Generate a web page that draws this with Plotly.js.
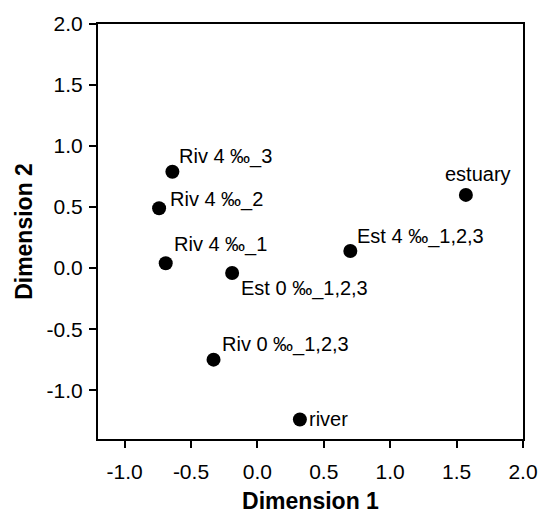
<!DOCTYPE html>
<html>
<head>
<meta charset="utf-8">
<script src="https://cdn.plot.ly/plotly-3.0.1.min.js"></script>
<style>html,body{margin:0;padding:0;background:#fff;}#chart{width:542px;height:514px;}</style>
</head>
<body>
<div id="chart"></div>
<script>
// Data
const labels = ["Riv 4 ‰_3", "Riv 4 ‰_2", "Riv 4 ‰_1", "Est 0 ‰_1,2,3", "Riv 0 ‰_1,2,3", "river", "Est 4 ‰_1,2,3", "estuary"];
const dim1 = [-0.64, -0.74, -0.69, -0.19, -0.33, 0.32, 0.70, 1.57];
const dim2 = [0.79, 0.49, 0.04, -0.04, -0.75, -1.24, 0.14, 0.60];
const xTickVals = [-1.0, -0.5, 0.0, 0.5, 1.0, 1.5, 2.0];
const xTickText = ["-1.0", "-0.5", "0.0", "0.5", "1.0", "1.5", "2.0"];
const yTickVals = [-1.0, -0.5, 0.0, 0.5, 1.0, 1.5, 2.0];
const yTickText = ["-1.0", "-0.5", "0.0", "0.5", "1.0", "1.5", "2.0"];

// Label placement (layout only)
const labelAnchor = ["left", "left", "left", "left", "left", "left", "left", "center"];
const labelShiftX = [5, 9, 6, 7, 6, 7, 5, 12];
const labelShiftY = [15, 9, 19, -15, 15, 0, 15, 21];

const font = "Liberation Sans, Arial, sans-serif";

const trace = {
  x: dim1, y: dim2, mode: "markers", type: "scatter",
  marker: {color: "#000", size: 14},
  hoverinfo: "skip", showlegend: false
};

const annotations = labels.map((t, i) => ({
  x: dim1[i], y: dim2[i], xref: "x", yref: "y", text: t, showarrow: false,
  xanchor: labelAnchor[i], yanchor: "middle",
  xshift: labelShiftX[i], yshift: labelShiftY[i],
  font: {family: font, size: 20, color: "#000"}
}));

const axisCommon = {
  showgrid: false, zeroline: false, showline: true, linecolor: "#000", linewidth: 2,
  mirror: true, ticks: "outside", ticklen: 7, tickwidth: 2, tickcolor: "#000",
  tickfont: {family: font, size: 21, color: "#000"}, tickmode: "array"
};

const layout = {
  width: 542, height: 514,
  margin: {l: 98, r: 19, t: 24, b: 75},
  paper_bgcolor: "#fff", plot_bgcolor: "#fff",
  xaxis: Object.assign({}, axisCommon, {
    range: [-1.2, 2.0], tickvals: xTickVals, ticktext: xTickText,
    ticklabelstandoff: 6,
    title: {text: "<b>Dimension 1</b>", font: {family: font, size: 23, color: "#000"}, standoff: 12}
  }),
  yaxis: Object.assign({}, axisCommon, {
    range: [-1.4, 2.0], tickvals: yTickVals, ticktext: yTickText,
    ticklabelstandoff: 2,
    title: {text: "<b>Dimension 2</b>", font: {family: font, size: 23, color: "#000"}, standoff: 8}
  }),
  annotations: annotations
};

Plotly.newPlot("chart", [trace], layout, {displayModeBar: false, staticPlot: true});
</script>
</body>
</html>
